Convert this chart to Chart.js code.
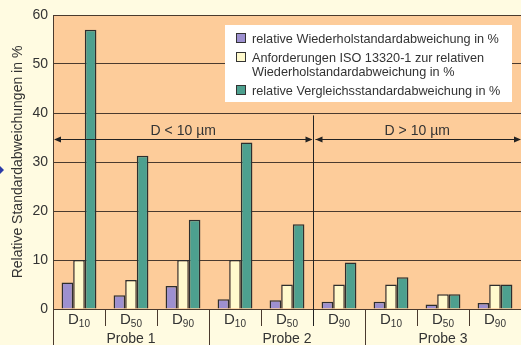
<!DOCTYPE html>
<html>
<head>
<meta charset="utf-8">
<script src="https://cdn.jsdelivr.net/npm/chart.js@4"></script>
<style>
  html, body { margin: 0; padding: 0; background: #fffbe1; }
  #wrap { width: 521px; height: 345px; }
</style>
</head>
<body>
<div id="wrap"><canvas id="myChart" width="521" height="345"></canvas></div>
<script>
// Daten
const sizeLabels = ['10', '50', '90', '10', '50', '90', '10', '50', '90'];
const groups = ['Probe 1', 'Probe 2', 'Probe 3'];
const groupSizes = [3, 3, 3];
const wiederhol = [5.4, 2.8, 4.7, 2.0, 1.8, 1.5, 1.5, 0.9, 1.2];
const anforderung = [10, 5.9, 10, 10, 5, 5, 5, 3, 5];
const vergleich = [57, 31.3, 18.2, 34, 17.3, 9.5, 6.5, 3, 5];
const yTicks = [0, 10, 20, 30, 40, 50, 60];
const regions = ['D < 10 µm', 'D > 10 µm'];
const regionSplit = 5;     // erste Kategorie mit D > 10
const regionLevel = 34.7;  // Höhe der Pfeillinie

const font = '"Liberation Sans", Arial, sans-serif';
const textColor = '#333333';
const lineColor = '#4a3a2e';

function arrowHead(ctx, x, y, dir) {
  ctx.beginPath();
  ctx.moveTo(x, y);
  ctx.lineTo(x - dir * 7, y - 3);
  ctx.lineTo(x - dir * 7, y + 3);
  ctx.closePath();
  ctx.fill();
}

const decoPlugin = {
  id: 'deco',
  beforeDraw(chart) {
    const { ctx, chartArea: a } = chart;
    ctx.save();
    ctx.fillStyle = '#fffbe1';
    ctx.fillRect(0, 0, chart.width, chart.height);
    ctx.fillStyle = '#fdcc9a';
    ctx.fillRect(a.left, a.top, a.right - a.left, a.bottom - a.top);
    // kleiner blauer Pfeil am Rand
    ctx.fillStyle = '#2b3aa8';
    ctx.beginPath();
    ctx.moveTo(0, 166);
    ctx.lineTo(4, 170);
    ctx.lineTo(0, 174);
    ctx.closePath();
    ctx.fill();
    ctx.restore();
  },
  afterDraw(chart) {
    const { ctx, chartArea: a } = chart;
    const xs = chart.scales.x;
    const ys = chart.scales.y;
    const n = sizeLabels.length;
    const step = (a.right - a.left) / n;
    ctx.save();

    // Trennlinien unter der Achse
    ctx.strokeStyle = lineColor;
    ctx.lineWidth = 1;
    let boundaries = [0];
    let acc = 0;
    groupSizes.forEach(s => { acc += s; boundaries.push(acc); });
    for (let i = 0; i <= n; i++) {
      const x = Math.round(a.left + i * step) + 0.5;
      const long = boundaries.includes(i);
      ctx.beginPath();
      ctx.moveTo(x, a.bottom);
      ctx.lineTo(x, long ? chart.height : a.bottom + 17);
      ctx.stroke();
    }

    // Kategorienbeschriftung D mit Index
    ctx.fillStyle = textColor;
    ctx.textBaseline = 'alphabetic';
    for (let i = 0; i < n; i++) {
      const cx = xs.getPixelForValue(i);
      ctx.font = '15px ' + font;
      const wD = ctx.measureText('D').width;
      ctx.font = '10px ' + font;
      const wS = ctx.measureText(sizeLabels[i]).width;
      const x0 = cx - (wD + wS) / 2;
      ctx.font = '15px ' + font;
      ctx.textAlign = 'left';
      ctx.fillText('D', x0, a.bottom + 15);
      ctx.font = '10px ' + font;
      ctx.fillText(sizeLabels[i], x0 + wD, a.bottom + 18);
    }
    // Gruppen
    ctx.font = '14px ' + font;
    ctx.textAlign = 'center';
    let start = 0;
    groups.forEach((g, k) => {
      const x1 = a.left + start * step;
      const x2 = a.left + (start + groupSizes[k]) * step;
      ctx.fillText(g, (x1 + x2) / 2, a.bottom + 34);
      start += groupSizes[k];
    });

    // Bereiche D < 10 / D > 10
    const yA = Math.round(ys.getPixelForValue(regionLevel)) + 0.5;
    const xSplit = Math.round(a.left + regionSplit * step) + 0.5;
    ctx.strokeStyle = '#222';
    ctx.fillStyle = '#222';
    ctx.beginPath();
    ctx.moveTo(xSplit, ys.getPixelForValue(39.5));
    ctx.lineTo(xSplit, a.bottom + 17);
    ctx.stroke();
    ctx.beginPath();
    ctx.moveTo(a.left + 2, yA);
    ctx.lineTo(xSplit - 2, yA);
    ctx.moveTo(xSplit + 2, yA);
    ctx.lineTo(a.right - 1, yA);
    ctx.stroke();
    arrowHead(ctx, a.left + 1, yA, -1);
    arrowHead(ctx, xSplit - 1, yA, 1);
    arrowHead(ctx, xSplit + 2, yA, -1);
    arrowHead(ctx, a.right, yA, 1);
    ctx.fillStyle = textColor;
    ctx.font = '14px ' + font;
    ctx.textAlign = 'center';
    ctx.fillText(regions[0], (a.left + xSplit) / 2, yA - 5);
    ctx.fillText(regions[1], (xSplit + a.right) / 2, yA - 5);

    // Legende
    const lx = 225, ly = 25, lw = 287, lh = 77;
    ctx.fillStyle = '#ffffff';
    ctx.fillRect(lx, ly, lw, lh);
    const rows = [[38], [57, 71], [90]];
    ctx.font = '12.7px ' + font;
    ctx.textAlign = 'left';
    ctx.textBaseline = 'middle';
    chart.data.datasets.forEach((ds, k) => {
      const lines = ds.label.split('\n');
      const sy = rows[k][0];
      ctx.fillStyle = ds.backgroundColor;
      ctx.fillRect(236.5, sy - 4.5, 9, 9);
      ctx.strokeStyle = '#333';
      ctx.lineWidth = 1;
      ctx.strokeRect(236.5, sy - 4.5, 9, 9);
      ctx.fillStyle = textColor;
      lines.forEach((t, j) => ctx.fillText(t, 252, rows[k][j] + 1));
    });
    ctx.restore();
  }
};

const data = {
  labels: sizeLabels.map(s => 'D' + s),
  datasets: [
    {
      label: 'relative Wiederholstandardabweichung in %',
      data: wiederhol,
      backgroundColor: '#9d90d0'
    },
    {
      label: 'Anforderungen ISO 13320-1 zur relativen\nWiederholstandardabweichung in %',
      data: anforderung,
      backgroundColor: '#fffacd'
    },
    {
      label: 'relative Vergleichsstandardabweichung in %',
      data: vergleich,
      backgroundColor: '#4da08f'
    }
  ]
};
data.datasets.forEach(ds => {
  ds.borderColor = '#2e2e2e';
  ds.borderWidth = 1.5;
  ds.categoryPercentage = 0.67;
  ds.barPercentage = 1.0;
});

const options = {
  responsive: false,
  animation: false,
  layout: { padding: { top: 15, bottom: 36, left: 0, right: 0 } },
  plugins: { legend: { display: false }, tooltip: { enabled: false } },
  scales: {
    x: { display: false },
    y: {
      min: 0,
      max: 60,
      afterBuildTicks: s => { s.ticks = yTicks.map(v => ({ value: v })); },
      afterFit: s => { s.width = 53; },
      ticks: { color: textColor, font: { family: font, size: 14 }, padding: 5 },
      grid: { color: lineColor, lineWidth: 1, drawTicks: false },
      border: { display: true, color: lineColor, width: 1 },
      title: {
        display: true,
        text: 'Relative Standardabweichungen in %',
        color: textColor,
        font: { family: font, size: 14 },
        padding: { top: 10, bottom: 0 }
      }
    }
  }
};

const ctx = document.getElementById('myChart').getContext('2d');
const myChart = new Chart(ctx, {
  type: 'bar',
  data: data,
  options: options,
  plugins: [decoPlugin]
});
</script>
</body>
</html>
